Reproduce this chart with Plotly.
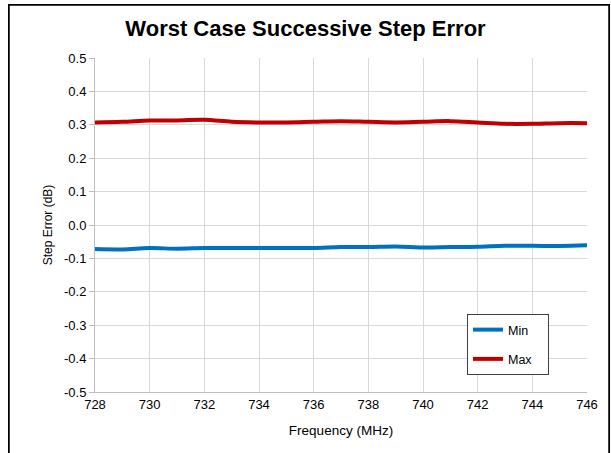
import plotly.graph_objects as go

freq = list(range(728, 747))
min_vals = [-0.072, -0.073, -0.069, -0.071, -0.069, -0.069, -0.069, -0.069, -0.069, -0.066,
            -0.066, -0.064, -0.067, -0.066, -0.065, -0.062, -0.062, -0.063, -0.061]
max_vals = [0.307, 0.309, 0.313, 0.313, 0.315, 0.309, 0.307, 0.307, 0.309, 0.311,
            0.309, 0.307, 0.309, 0.311, 0.307, 0.303, 0.303, 0.305, 0.305]
x_ticks = list(range(728, 747, 2))
y_ticks = [round(-0.5 + 0.1 * i, 1) for i in range(11)]

fig = go.Figure()
fig.add_trace(go.Scatter(x=freq, y=min_vals, name="Min", mode="lines", legendgroup="a",
                         line=dict(color="#0070C0", width=4, shape="spline")))
fig.add_trace(go.Scatter(x=freq, y=max_vals, name="Max\u00a0\u00a0\u00a0", mode="lines", legendgroup="b",
                         line=dict(color="#C00000", width=4, shape="spline")))

L, R, T, B = 95, 24, 58, 61
W, H = 611, 453
pw, ph = W - L - R, H - T - B

def px(xp):
    return (xp - L) / pw

def py(yp):
    return (H - B - yp) / ph

border = dict(color="#000000", width=1.5)
shapes = [
    dict(type="line", xref="paper", yref="paper", x0=px(9), x1=px(609), y0=py(5), y1=py(5), line=border),
    dict(type="line", xref="paper", yref="paper", x0=px(9), x1=px(9), y0=py(5), y1=py(460), line=border),
    dict(type="line", xref="paper", yref="paper", x0=px(609), x1=px(609), y0=py(5), y1=py(460), line=border),
]

fig.update_layout(
    width=W, height=H,
    margin=dict(l=L, r=R, t=T, b=B),
    paper_bgcolor="white", plot_bgcolor="white",
    font=dict(family="Liberation Sans, Arial, sans-serif", color="#000000", size=12),
    title=dict(text="<b>Worst Case Successive Step Error</b>", x=0.5, xanchor="center",
               y=1 - 28 / H, yanchor="middle", font=dict(size=22, color="#000000")),
    xaxis=dict(range=[728, 746], tickvals=x_ticks, ticktext=[str(v) for v in x_ticks],
               showgrid=True, gridcolor="#D9D9D9", gridwidth=1,
               showline=True, linecolor="#BFBFBF", linewidth=1,
               ticks="", zeroline=False, tickfont=dict(size=13),
               title=dict(text="Frequency (MHz)", font=dict(size=13.5), standoff=14)),
    yaxis=dict(range=[-0.5, 0.5], tickvals=y_ticks, ticktext=[f"{v:.1f}" for v in y_ticks],
               showgrid=True, gridcolor="#D9D9D9", gridwidth=1,
               showline=True, linecolor="#BFBFBF", linewidth=1,
               ticks="outside", ticklen=5, tickcolor="#BFBFBF", zeroline=False,
               tickfont=dict(size=13),
               title=dict(text="Step Error (dB)", font=dict(size=12), standoff=8)),
    legend=dict(x=px(467), y=py(314), xanchor="left", yanchor="top",
                bordercolor="#404040", borderwidth=1, bgcolor="white",
                traceorder="grouped", tracegroupgap=10, itemwidth=30,
                font=dict(size=12.5)),
    shapes=shapes,
)

post = (
    "document.body.style.margin='0';document.body.style.overflow='hidden';"
    "var b=document.createElement('div');"
    "b.style.cssText='position:absolute;left:8px;top:4px;width:602px;height:600px;"
    "border:1.5px solid #000;box-sizing:border-box;pointer-events:none;';"
    "document.body.appendChild(b);"
)
fig.write_html("out.html", config={"displayModeBar": False}, post_script=post)
